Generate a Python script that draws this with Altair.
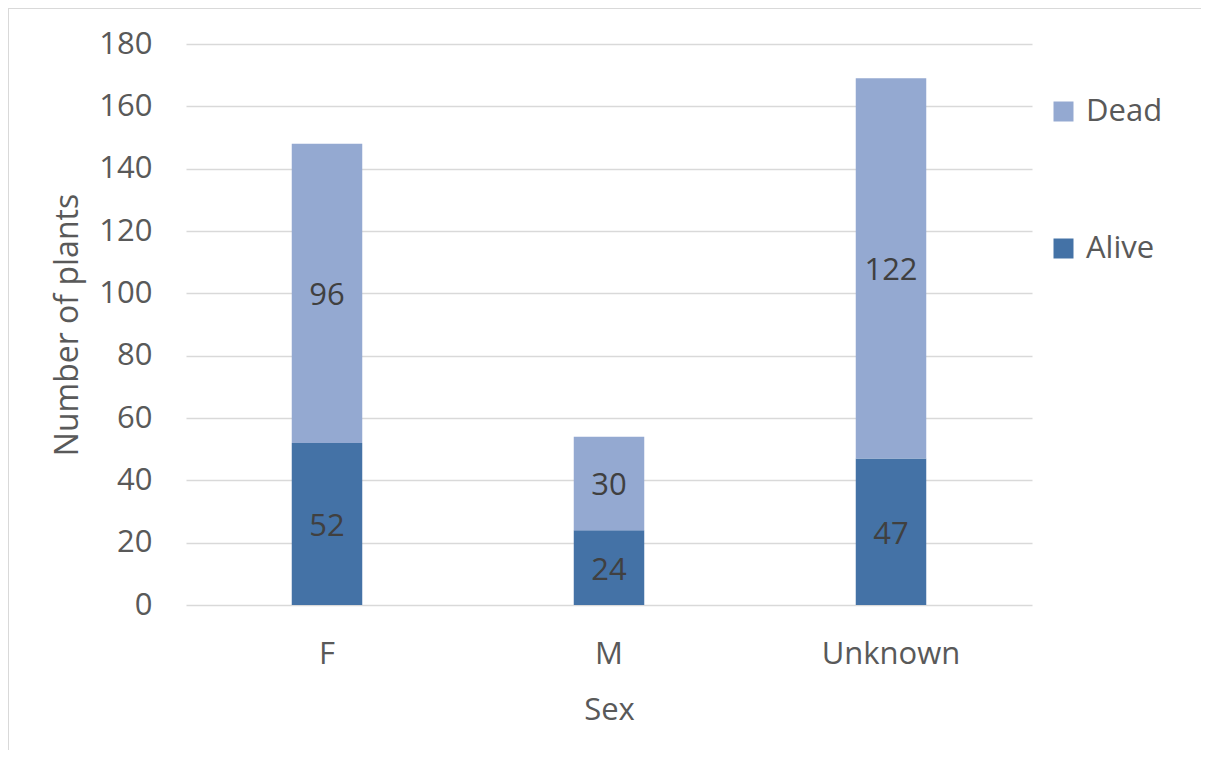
import altair as alt
import pandas as pd

sexes = ["F", "M", "Unknown"]
alive = [52, 24, 47]
dead = [96, 30, 122]
statuses = ["Dead", "Alive"]
status_colors = ["#94a9d1", "#4472a6"]
y_ticks = [0, 20, 40, 60, 80, 100, 120, 140, 160, 180]

rows = []
for s, a, d in zip(sexes, alive, dead):
    rows.append({"Sex": s, "Status": "Alive", "Count": a, "order": 0})
    rows.append({"Sex": s, "Status": "Dead", "Count": d, "order": 1})
df = pd.DataFrame(rows)

FONT = "Open Sans"
W, H = 846, 561
PAD_L, PAD_T = 178, 36
PAD_R = 1209 - 16 - PAD_L - W
PAD_B = 758 - 16 - PAD_T - H

base = alt.Chart(df).transform_stack(
    stack="Count", groupby=["Sex"], as_=["y0", "y1"], sort=[alt.SortField("order")]
).transform_calculate(mid="(datum.y0 + datum.y1) / 2")

x_enc = alt.X(
    "Sex:N",
    sort=sexes,
    title="Sex",
    scale=alt.Scale(paddingInner=0, paddingOuter=0),
    axis=alt.Axis(
        labelAngle=0, ticks=False, domain=False, grid=False,
        labelPadding=34, titlePadding=26,
        labelFontSize=31, titleFontSize=31,
        labelColor="#595959", titleColor="#595959",
        labelFont=FONT, titleFont=FONT, titleFontWeight="normal",
    ),
)

bars = base.mark_bar(width=alt.RelativeBandSize(0.25)).encode(
    x=x_enc,
    y=alt.Y(
        "y0:Q",
        title="Number of plants",
        scale=alt.Scale(domain=[0, 180], nice=False),
        axis=alt.Axis(
            values=y_ticks, ticks=False, domain=False,
            gridColor="#d9d9d9", gridWidth=1.5,
            labelPadding=34, titlePadding=14,
            labelFontSize=31, titleFontSize=32,
            labelColor="#595959", titleColor="#595959",
            labelFont=FONT, titleFont=FONT, titleFontWeight="normal",
        ),
    ),
    y2="y1:Q",
    color=alt.Color(
        "Status:N",
        scale=alt.Scale(domain=statuses, range=status_colors),
        legend=alt.Legend(
            title=None, orient="none", legendX=862, legendY=52,
            symbolType="square", symbolSize=400, symbolStrokeWidth=0,
            labelFontSize=31, labelColor="#595959", labelFont=FONT,
            rowPadding=105, labelOffset=7,
        ),
    ),
)

labels = base.mark_text(fontSize=31, font=FONT, color="#404040", baseline="middle", dy=3).encode(
    x=alt.X("Sex:N", sort=sexes),
    y=alt.Y("mid:Q"),
    text=alt.Text("Count:Q"),
)

frame_data = alt.Data(values=[{}])
frame_top = alt.Chart(frame_data).mark_rule(stroke="#d9d9d9", strokeWidth=2).encode(
    x=alt.value(-PAD_L),
    x2=alt.value(W + PAD_R + 20),
    y=alt.value(-PAD_T),
)
frame_left = alt.Chart(frame_data).mark_rule(stroke="#d9d9d9", strokeWidth=2).encode(
    x=alt.value(-PAD_L),
    y=alt.value(-PAD_T),
    y2=alt.value(H + PAD_B + 20),
)

chart = alt.layer(frame_top, frame_left, bars, labels).properties(
    width=W, height=H,
    padding={"left": PAD_L, "top": PAD_T, "right": PAD_R, "bottom": PAD_B},
    autosize=alt.AutoSizeParams(type="none"),
    background="transparent",
).configure_view(stroke=None)

chart.save("out.html", embed_options={"renderer": "svg", "actions": False})
